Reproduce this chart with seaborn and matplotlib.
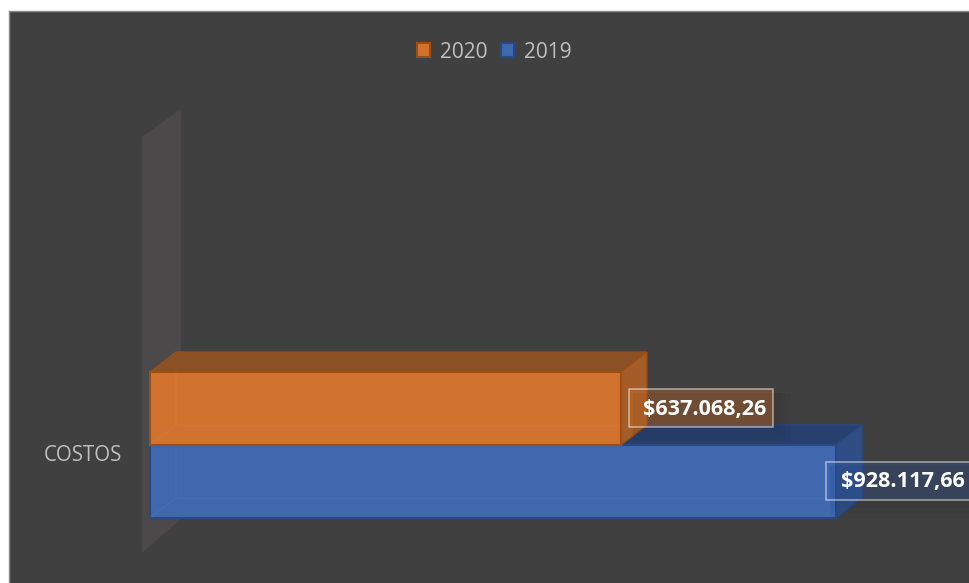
import matplotlib
matplotlib.use("Agg")
import matplotlib.pyplot as plt
from matplotlib.colors import to_rgba
from matplotlib.patches import Polygon, Rectangle
import pandas as pd
import seaborn as sns

# Chart data
categories = ["COSTOS"]
series_names = ["2020", "2019"]
costos_values = [637068.26, 928117.66]
value_labels = ["$637.068,26", "$928.117,66"]

# Colours: front, top, side, edge, label fill
STYLE = {
    "2020": ("#D2722F", "#8C5224", "#A85F26", "#9C4E14", "#C66B29"),
    "2019": ("#3F68AF", "#28406F", "#304F86", "#274A86", "#2F5DB2"),
}
LABEL_ALPHA = {"2020": 0.38, "2019": 0.27}
PANEL = "#404040"
TEXT = "#BFBFBF"

W, H = 970, 583
AX_L, AX_T = 9, 11
X0_PX, Y_MID_PX = 150, 445
PX_PER_VALUE = (836 - 150) / 928117.66
PX_PER_CAT = 182.5
DEPTH_X, DEPTH_Y = 26, 20

sns.set_theme(style="dark")
plt.rcParams["font.family"] = ["Open Sans", "DejaVu Sans"]

fig = plt.figure(figsize=(W / 100, H / 100), dpi=100, facecolor="white")
ax = fig.add_axes([AX_L / W, 0, (W - AX_L) / W, (H - AX_T) / H], facecolor=PANEL)

df = pd.DataFrame({
    "categoria": categories * len(series_names),
    "serie": series_names,
    "valor": costos_values,
})
sns.barplot(
    data=df, y="categoria", x="valor", hue="serie", hue_order=series_names,
    palette={k: v[0] for k, v in STYLE.items()}, width=0.8, gap=0, ax=ax,
    legend=True, errorbar=None, saturation=1,
)


def px_x(p):
    return (p - X0_PX) / PX_PER_VALUE


def px_y(p):
    return (p - Y_MID_PX) / PX_PER_CAT


ax.set_xlim(px_x(AX_L), px_x(W))
ax.set_ylim(px_y(H), px_y(AX_T))
ax.grid(False)
ax.set_xlabel("")
ax.set_ylabel("")
ax.set_xticks([])
# The category name sits inside the panel, slightly below the seam between the bars
ax.set_yticks([px_y(453)], labels=categories)
ax.tick_params(axis="y", length=0, pad=-(122 - AX_L) * 0.72, labelsize=14.8, labelcolor=TEXT)

for name, spine in ax.spines.items():
    spine.set_visible(name in ("left", "top"))
    spine.set_color("#8A8A8A")
    spine.set_linewidth(1)

dx = DEPTH_X / PX_PER_VALUE
dy = -DEPTH_Y / PX_PER_CAT

# Translucent back wall of the 3D plot box
ax.add_patch(Polygon(
    [(px_x(142), px_y(137)), (px_x(181), px_y(109)),
     (px_x(181), px_y(519)), (px_x(142), px_y(553))],
    closed=True, facecolor="#4B4949", edgecolor="none", zorder=1,
))

bars = [p for p in ax.patches if isinstance(p, Rectangle) and p.get_width() > 0]
for bar, name, base_z in zip(bars, series_names, (4, 2)):
    front, top_c, side_c, edge, _ = STYLE[name]
    x0, x1 = bar.get_x(), bar.get_x() + bar.get_width()
    y_top, y_bot = bar.get_y(), bar.get_y() + bar.get_height()
    faces = [
        ([(x0, y_top), (x1, y_top), (x1 + dx, y_top + dy), (x0 + dx, y_top + dy)], top_c),
        ([(x1, y_top), (x1 + dx, y_top + dy), (x1 + dx, y_bot + dy), (x1, y_bot)], side_c),
    ]
    for pts, color in faces:
        ax.add_patch(Polygon(pts, closed=True, facecolor=color, edgecolor=edge,
                             linewidth=1.0, alpha=0.97, zorder=base_z))
    bar.set_edgecolor(edge)
    bar.set_linewidth(1.5)
    bar.set_zorder(base_z + 0.5)
    # Faint inner edges seen through the translucent front face
    ax.plot([x0, x0 + dx, x0 + dx], [y_bot, y_bot + dy, y_top], color="white",
            alpha=0.03, lw=1, zorder=base_z + 0.6)
    ax.plot([x0 + dx, x1], [y_bot + dy, y_bot + dy], color="white",
            alpha=0.03, lw=1, zorder=base_z + 0.6)

# Value labels in outlined, tinted boxes, placed relative to each bar's end
box_offsets = [(8, 408), (-10, 481)]
text_offsets = [84, 67]
box_widths = [144, 150]
for bar, name, text, (ox, cy_px), tx, bw in zip(bars, series_names, value_labels,
                                                box_offsets, text_offsets, box_widths):
    x1 = bar.get_x() + bar.get_width()
    left = x1 + ox / PX_PER_VALUE
    cy = px_y(cy_px)
    width = bw / PX_PER_VALUE
    half_h = 19 / PX_PER_CAT
    # Soft shadow behind the box
    for grow in (14, 9, 4):
        ax.add_patch(Rectangle(
            (left + 4 / PX_PER_VALUE, cy - half_h + 4 / PX_PER_CAT),
            width + grow / PX_PER_VALUE, 2 * half_h + grow / PX_PER_CAT,
            facecolor="black", edgecolor="none", alpha=0.02, zorder=5))
    ax.add_patch(Rectangle(
        (left, cy - half_h), width, 2 * half_h,
        facecolor=to_rgba(STYLE[name][4], LABEL_ALPHA[name]),
        edgecolor=to_rgba("white", 0.5), linewidth=1.2, zorder=6))
    ax.text(x1 + tx / PX_PER_VALUE, cy + 1 / PX_PER_CAT, text, ha="center",
            va="center", color="white", fontsize=15.6, fontweight="bold", zorder=7)

# Legend across the top, using the handles the bar plot produced
handles, labels = ax.get_legend_handles_labels()
ax.get_legend().remove()
leg = fig.legend(
    handles, labels, ncol=2, frameon=False, loc="center",
    bbox_to_anchor=(494 / W, 1 - 52 / H), fontsize=15, labelcolor=TEXT,
    handlelength=0.65, handleheight=0.65, handletextpad=0.45, columnspacing=0.65,
)
for handle, name in zip(leg.get_patches(), series_names):
    handle.set_edgecolor(STYLE[name][3])
    handle.set_linewidth(1.5)

fig.savefig("out.png", dpi=100, facecolor=fig.get_facecolor())
